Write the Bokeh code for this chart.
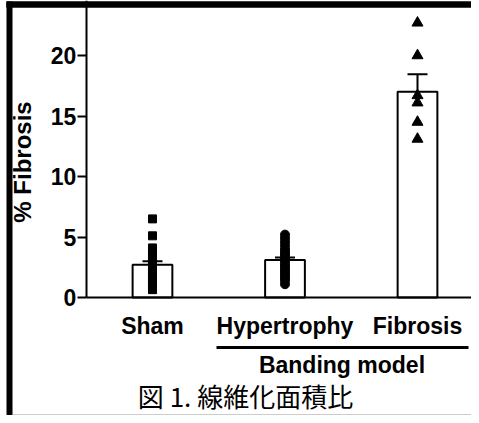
import math
from bokeh.plotting import figure
from bokeh.models import (Range1d, FixedTicker, LinearAxis, Whisker, TeeHead,
                          ColumnDataSource, Label, BoxAnnotation)
from bokeh.embed import file_html
from bokeh.resources import INLINE

# ---- data ----
groups = ["Sham", "Hypertrophy", "Fibrosis"]
means = [2.7, 3.1, 17.0]
sems = [0.3, 0.2, 1.45]
sham_vals = [6.5, 5.1, 4.1, 3.8, 3.5, 3.2, 3.0, 2.8, 2.6, 2.4, 2.2, 2.0, 1.8,
             1.6, 1.4, 1.2, 1.0, 0.8, 0.65]
hyper_vals = [5.2, 4.9, 4.6, 4.3, 4.0, 3.8, 3.6, 3.4, 3.2, 3.0, 2.8, 2.6, 2.4,
              2.2, 2.0, 1.8, 1.6, 1.4, 1.1]
fib_vals = [22.7, 20.0, 16.7, 16.1, 14.5, 13.1]
y_ticks = [0, 5, 10, 15, 20]
y_label = "% Fibrosis"
group_label = "Banding model"
caption = "図 1. 線維化面積比"

BOLD = "Liberation Sans"
W, H = 471, 415
XMIN, XMAX = -0.647, 2.9075
YMIN, YMAX = -9.75, 24.55
PX_X = W / (XMAX - XMIN)   # pixels per x unit
PX_Y = H / (YMAX - YMIN)   # pixels per y unit

xpos = [i + 0.5 for i in range(len(groups))]

p = figure(width=W, height=H, x_range=Range1d(XMIN, XMAX), y_range=Range1d(YMIN, YMAX),
           output_backend="svg", toolbar_location=None,
           min_border_left=0, min_border_top=0, min_border_right=0,
           min_border_bottom=0)
p.outline_line_color = None
p.grid.visible = False
p.background_fill_color = "white"
p.border_fill_color = "white"

src = ColumnDataSource(dict(x=xpos, top=means,
                            upper=[m + s for m, s in zip(means, sems)],
                            lower=[m - s for m, s in zip(means, sems)]))
p.vbar(x="x", top="top", width=0.3, source=src, fill_color="white",
       line_color="black", line_width=2)

p.scatter(x=[xpos[0]] * len(sham_vals), y=sham_vals, marker="square", size=8,
          color="black")
p.scatter(x=[xpos[1]] * len(hyper_vals), y=hyper_vals, marker="circle", size=9,
          color="black")
p.scatter(x=[xpos[2]] * len(fib_vals), y=fib_vals, marker="triangle", size=11,
          color="black")

p.add_layout(Whisker(base="x", upper="upper", lower="lower", source=src,
                     dimension="height", line_width=2, line_color="black",
                     upper_head=TeeHead(size=20, line_width=2, line_color="black"),
                     lower_head=TeeHead(size=20, line_width=2, line_color="black")))

# y axis, drawn at the left end of the category span
ya = p.yaxis[0]
ya.fixed_location = 0
ya.bounds = (0, YMAX)
ya.ticker = FixedTicker(ticks=y_ticks)
ya.minor_tick_line_color = None
ya.major_tick_out = 9
ya.major_tick_in = 0
ya.major_tick_line_width = 2
ya.major_tick_line_color = "black"
ya.axis_line_width = 2
ya.axis_line_color = "black"
ya.major_label_standoff = 1
ya.major_label_text_font = BOLD
ya.major_label_text_font_style = "bold"
ya.major_label_text_font_size = "23px"
ya.major_label_text_color = "black"

# category axis at y = 0
xa = p.xaxis[0]
xa.fixed_location = 0
xa.bounds = (0, XMAX)
xa.ticker = FixedTicker(ticks=xpos)
xa.major_label_overrides = {x: g for x, g in zip(xpos, groups)}
xa.minor_tick_line_color = None
xa.major_tick_line_color = None
xa.major_tick_out = 0
xa.major_tick_in = 0
xa.axis_line_width = 2
xa.axis_line_color = "black"
xa.major_label_standoff = 15
xa.major_label_text_font = BOLD
xa.major_label_text_font_style = "bold"
xa.major_label_text_font_size = "23px"
xa.major_label_text_color = "black"

# bracket under the two banding-model groups
ba = LinearAxis(fixed_location=-4.13, bounds=(xpos[1] - 0.517, xpos[2] + 0.385),
                ticker=FixedTicker(ticks=[]), axis_line_width=3,
                axis_line_color="black", major_tick_line_color=None,
                minor_tick_line_color=None)
p.add_layout(ba, "below")

label_style = dict(text_font=BOLD, text_font_style="bold", text_color="black")
p.add_layout(Label(x=(xpos[1] + xpos[2]) / 2 - 0.07, y=-5.6, text=group_label,
                   text_align="center", text_baseline="middle",
                   text_font_size="23px", **label_style))
p.add_layout(Label(x=-0.481, y=11.2, text=y_label, angle=math.pi / 2,
                   text_align="center", text_baseline="alphabetic",
                   text_font_size="24px", **label_style))
p.add_layout(Label(x=1.202, y=-8.1, text=caption, text_align="center",
                   text_baseline="middle", text_font="Noto Sans CJK JP",
                   text_font_size="26px", text_color="black"))

# black frame of the cropped figure
p.quad(left=[XMIN + 6 / PX_X], right=[XMAX], top=[YMAX - 1 / PX_Y],
       bottom=[YMAX - 7 / PX_Y], fill_color="black", line_color=None)

def box(l, r, t, b, color):
    return BoxAnnotation(left=l, right=r, top=t, bottom=b, left_units="canvas",
                         right_units="canvas", top_units="canvas",
                         bottom_units="canvas", fill_color=color, fill_alpha=1,
                         line_color=None, level="overlay")

p.add_layout(box(6, W, 1, 7, "black"))
p.add_layout(box(6, 12, 1, H, "black"))
p.add_layout(box(12, W, H - 1, H, "#999999"))

open("out.html", "w").write(file_html(p, INLINE))
